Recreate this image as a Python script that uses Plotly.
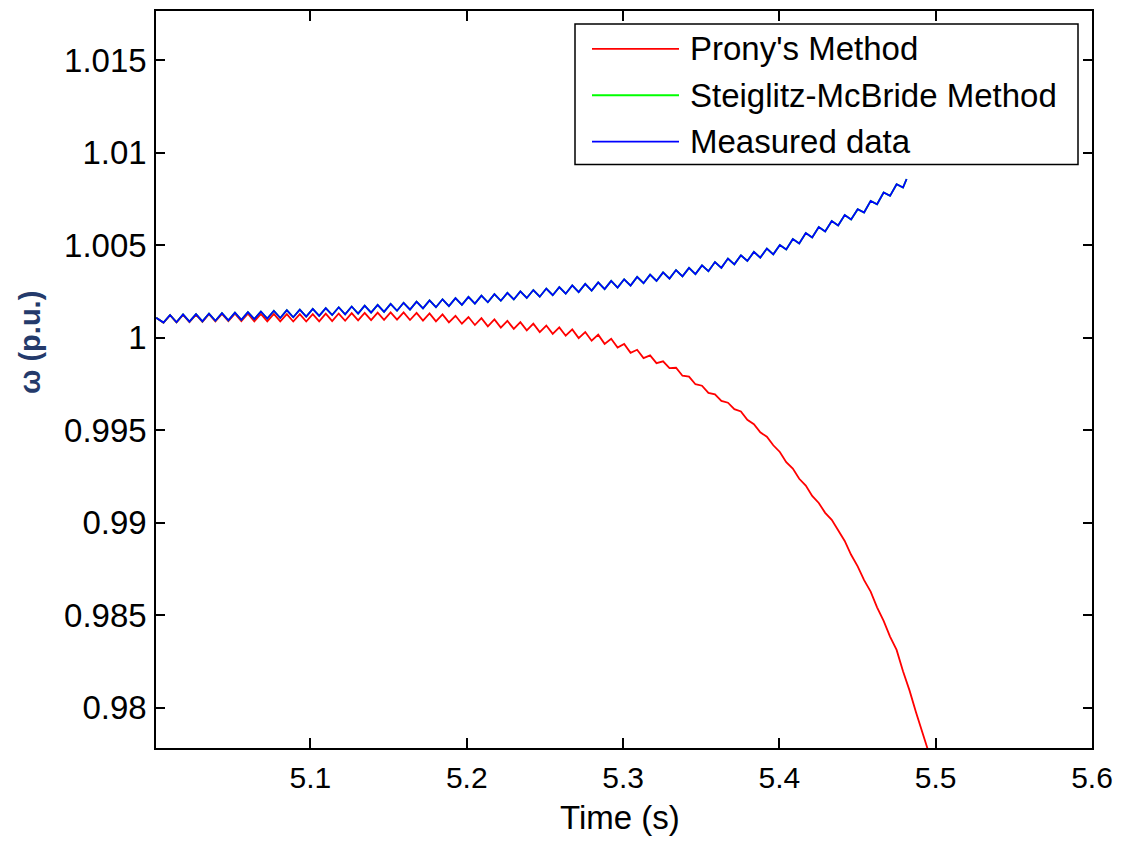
import plotly.graph_objects as go

# ---------------- data ----------------
t_start = [5.0013]
t_common = [
    5.0060, 5.0102, 5.0143, 5.0185, 5.0226, 5.0268, 5.0309, 5.0351, 5.0392, 5.0434,
    5.0475, 5.0517, 5.0558, 5.0600, 5.0641, 5.0683, 5.0724, 5.0766, 5.0807, 5.0849,
    5.0890, 5.0932, 5.0973, 5.1015, 5.1056, 5.1098, 5.1139, 5.1181, 5.1222, 5.1264,
    5.1305, 5.1347, 5.1388, 5.1430, 5.1471, 5.1513, 5.1554, 5.1596, 5.1637, 5.1679,
    5.1720, 5.1762, 5.1803, 5.1845, 5.1886, 5.1928, 5.1969, 5.2011, 5.2052, 5.2094,
    5.2135, 5.2177, 5.2218, 5.2260, 5.2301, 5.2343, 5.2384, 5.2426, 5.2467, 5.2509,
    5.2550, 5.2592, 5.2633, 5.2675, 5.2716, 5.2758, 5.2799, 5.2841, 5.2882, 5.2924,
    5.2965, 5.3007, 5.3048, 5.3090, 5.3131, 5.3173, 5.3214, 5.3256, 5.3297, 5.3339,
    5.3380, 5.3422, 5.3463, 5.3505, 5.3546, 5.3588, 5.3629, 5.3671, 5.3712, 5.3754,
    5.3795, 5.3837, 5.3878, 5.3920, 5.3961, 5.4003, 5.4044, 5.4086, 5.4127, 5.4169,
    5.4210, 5.4252, 5.4293, 5.4335, 5.4376, 5.4418, 5.4459, 5.4501, 5.4542, 5.4584,
    5.4625, 5.4667, 5.4708, 5.4750, 5.4791,
]
t_measured_end = [5.4814]
t_prony_tail = [5.4833, 5.4874, 5.4916, 5.4957]

measured_values = [
    1.00108,
    1.00082, 1.00123, 1.00084, 1.00126, 1.00087, 1.00128, 1.00089, 1.00131, 1.00092, 1.00133,
    1.00094, 1.00136, 1.00097, 1.00139, 1.00101, 1.00142, 1.00104, 1.00146, 1.00107, 1.00149,
    1.00111, 1.00152, 1.00114, 1.00156, 1.00118, 1.00160, 1.00123, 1.00165, 1.00127, 1.00169,
    1.00131, 1.00174, 1.00136, 1.00178, 1.00140, 1.00183, 1.00146, 1.00189, 1.00152, 1.00195,
    1.00159, 1.00202, 1.00165, 1.00208, 1.00171, 1.00214, 1.00178, 1.00221, 1.00185, 1.00228,
    1.00192, 1.00236, 1.00200, 1.00243, 1.00207, 1.00251, 1.00215, 1.00258, 1.00222, 1.00266,
    1.00230, 1.00274, 1.00238, 1.00283, 1.00247, 1.00291, 1.00255, 1.00299, 1.00263, 1.00307,
    1.00271, 1.00316, 1.00282, 1.00329, 1.00295, 1.00341, 1.00307, 1.00353, 1.00320, 1.00366,
    1.00332, 1.00378, 1.00344, 1.00391, 1.00360, 1.00409, 1.00378, 1.00428, 1.00397, 1.00446,
    1.00415, 1.00464, 1.00433, 1.00482, 1.00451, 1.00501, 1.00477, 1.00534, 1.00510, 1.00566,
    1.00542, 1.00598, 1.00574, 1.00631, 1.00607, 1.00663, 1.00639, 1.00695, 1.00677, 1.00740,
    1.00722, 1.00785, 1.00767, 1.00830, 1.00812,
    1.00858,
]

# the Steiglitz-McBride fit coincides with the measured data in the picture
smb_values = list(measured_values)

prony_values = [
    1.00108,
    1.00081, 1.00122, 1.00083, 1.00124, 1.00085, 1.00125, 1.00086, 1.00127, 1.00088, 1.00129,
    1.00090, 1.00130, 1.00090, 1.00130, 1.00089, 1.00129, 1.00089, 1.00129, 1.00089, 1.00128,
    1.00088, 1.00128, 1.00088, 1.00128, 1.00089, 1.00130, 1.00090, 1.00131, 1.00092, 1.00133,
    1.00094, 1.00134, 1.00095, 1.00136, 1.00097, 1.00137, 1.00098, 1.00137, 1.00096, 1.00134,
    1.00093, 1.00132, 1.00089, 1.00126, 1.00083, 1.00119, 1.00076, 1.00112, 1.00069, 1.00106,
    1.00062, 1.00099, 1.00055, 1.00091, 1.00048, 1.00084, 1.00040, 1.00076, 1.00031, 1.00066,
    1.00021, 1.00056, 1.00011, 1.00045, 0.99998, 1.00031, 0.99984, 1.00017, 0.99967, 0.99995,
    0.99947, 0.99967, 0.99919, 0.99935, 0.99890, 0.99905, 0.99863, 0.99873, 0.99836, 0.99838,
    0.99795, 0.99790, 0.99749, 0.99741, 0.99702, 0.99694, 0.99659, 0.99649, 0.99614, 0.99602,
    0.99557, 0.99533, 0.99489, 0.99465, 0.99419, 0.99383, 0.99328, 0.99293, 0.99238, 0.99201,
    0.99145, 0.99107, 0.99054, 0.99016, 0.98963, 0.98902, 0.98827, 0.98765, 0.98690, 0.98628,
    0.98543, 0.98470, 0.98385, 0.98313, 0.98198, 0.98093, 0.97976, 0.97870, 0.97755,
]

t_measured = t_start + t_common + t_measured_end
t_prony = t_start + t_common + t_prony_tail

series_names = ["Prony's Method", "Steiglitz-McBride Method", "Measured data"]
series_colors = ["#ff0000", "#00ff00", "#0000ff"]

x_ticks = [5.1, 5.2, 5.3, 5.4, 5.5, 5.6]
x_tick_labels = ["5.1", "5.2", "5.3", "5.4", "5.5", "5.6"]
y_ticks = [0.98, 0.985, 0.99, 0.995, 1.0, 1.005, 1.01, 1.015]
y_tick_labels = ["0.98", "0.985", "0.99", "0.995", "1", "1.005", "1.01", "1.015"]

x_title = "Time (s)"
y_title = "ω (p.u.)"

# ---------------- figure ----------------
# The page body has an 8 px default margin; the figure is sized so that the
# plot area lands at screen pixels x 156..1092, y 9..748.
OFF = 8
SCREEN_W, SCREEN_H = 1121, 841
PL, PR, PT, PB = 156, 1092, 9, 748          # plot area on screen
W, H = SCREEN_W - OFF, SCREEN_H - OFF
L, T = PL - OFF, PT - OFF
PW, PH = PR - PL, PB - PT
R = W - L - PW
B = H - T - PH


def px(xs):
    return (xs - PL) / PW


def py(ys):
    return (PB - ys) / PH


FONT = "Liberation Sans, Arial, Helvetica, sans-serif"

fig = go.Figure()
fig.add_trace(go.Scatter(x=t_prony, y=prony_values, mode="lines", name=series_names[0],
                         line=dict(color=series_colors[0], width=1.8)))
fig.add_trace(go.Scatter(x=t_measured, y=smb_values, mode="lines", name=series_names[1],
                         line=dict(color=series_colors[1], width=1.8)))
fig.add_trace(go.Scatter(x=t_measured, y=measured_values, mode="lines", name=series_names[2],
                         line=dict(color=series_colors[2], width=1.8)))

fig.update_layout(
    width=W, height=H,
    margin=dict(l=L, r=R, t=T, b=B),
    plot_bgcolor="white", paper_bgcolor="white",
    showlegend=False,
    font=dict(family=FONT, color="black"),
)
fig.update_xaxes(
    range=[5.0012, 5.6], tickvals=x_ticks, ticktext=x_tick_labels,
    ticks="inside", ticklen=10, tickwidth=1.5, tickcolor="black",
    showline=True, linecolor="black", linewidth=1.5, mirror="ticks",
    showgrid=False, zeroline=False, tickfont=dict(size=30, family=FONT, color="black"),
    ticklabelstandoff=2,
)
fig.update_yaxes(
    range=[0.97783, 1.01766], tickvals=y_ticks, ticktext=y_tick_labels,
    ticks="inside", ticklen=9, tickwidth=1.5, tickcolor="black",
    showline=True, linecolor="black", linewidth=1.5, mirror="ticks",
    showgrid=False, zeroline=False, tickfont=dict(size=33, family=FONT, color="black"),
    ticklabelstandoff=1,
)

annotations = [
    dict(text=x_title, x=px(620), y=py(818), xref="paper", yref="paper",
         xanchor="center", yanchor="middle", showarrow=False,
         font=dict(size=33, family=FONT, color="black")),
    dict(text="<b>" + y_title + "</b>", x=px(30), y=py(342), xref="paper", yref="paper",
         xanchor="center", yanchor="middle", textangle=-90, showarrow=False,
         font=dict(size=29, family=FONT, color="#243a6b")),
]

# legend box drawn MATLAB-style (long line samples)
shapes = [
    dict(type="rect", xref="paper", yref="paper", x0=px(575), x1=px(1078), y0=py(163), y1=py(22),
         line=dict(color="black", width=1.5), fillcolor="white", layer="above"),
]
row_y = [47, 93.5, 140]
for name, color, yy in zip(series_names, series_colors, row_y):
    shapes.append(dict(type="line", xref="paper", yref="paper", x0=px(592), x1=px(679),
                       y0=py(yy), y1=py(yy), line=dict(color=color, width=1.8), layer="above"))
    annotations.append(dict(text=name, x=px(688), y=py(yy), xref="paper", yref="paper",
                            xanchor="left", yanchor="middle", showarrow=False,
                            font=dict(size=33, family=FONT, color="black")))

fig.update_layout(shapes=shapes, annotations=annotations)

fig.write_html("out.html")
